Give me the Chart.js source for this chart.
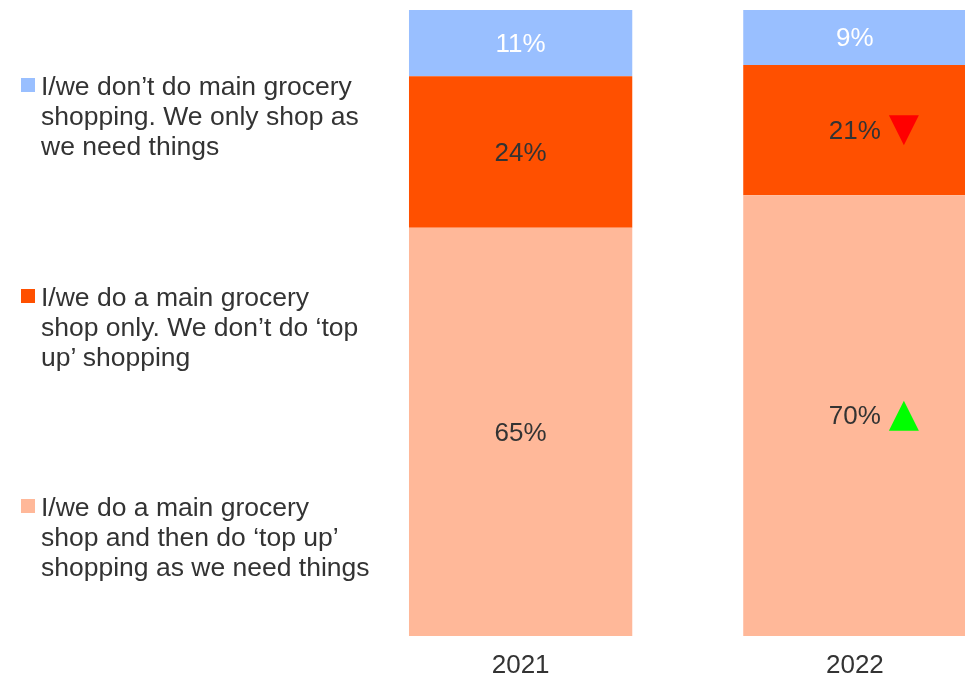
<!DOCTYPE html>
<html>
<head>
<meta charset="utf-8">
<script src="https://cdn.jsdelivr.net/npm/chart.js@4"></script>
<style>
  html, body { margin:0; padding:0; background:#fff; overflow:hidden; width:965px; height:680px; }
  #wrap { position:absolute; left:0; top:0; width:1022px; height:680px; }
  .leg { position:absolute; left:41px; font-family:"Liberation Sans", Arial, sans-serif; font-size:26.5px; line-height:30px; color:#333; white-space:nowrap; }
  .sq { position:absolute; left:21px; width:14px; height:14px; }
</style>
</head>
<body>
<div id="wrap"><canvas id="c" width="1022" height="680"></canvas></div>
<div id="legend"></div>
<script>
const categories = ['2021', '2022'];
const seriesNames = [
  'I/we do a main grocery shop and then do \u2018top up\u2019 shopping as we need things',
  'I/we do a main grocery shop only. We don\u2019t do \u2018top up\u2019 shopping',
  'I/we don\u2019t do main grocery shopping. We only shop as we need things'
];
const topUpValues = [65.2, 70.4];
const mainOnlyValues = [24.2, 20.8];
const noMainValues = [10.6, 8.8];
const topUpMarks = [null, 'up'];
const mainOnlyMarks = [null, 'down'];
const noMainMarks = [null, null];
const legendLines = [
  ['I/we don\u2019t do main grocery', 'shopping. We only shop as', 'we need things'],
  ['I/we do a main grocery', 'shop only. We don\u2019t do \u2018top', 'up\u2019 shopping'],
  ['I/we do a main grocery', 'shop and then do \u2018top up\u2019', 'shopping as we need things']
];

const colors = ['#FFB899', '#FF5000', '#99BFFF'];
const labelColors = ['#333333', '#333333', '#FFFFFF'];
const marks = [topUpMarks, mainOnlyMarks, noMainMarks];

// HTML legend (top to bottom: noMain, mainOnly, topUp)
const legendColors = [colors[2], colors[1], colors[0]];
const legendTops = [71, 282, 492];
const legendEl = document.getElementById('legend');
legendLines.forEach((lines, i) => {
  const sq = document.createElement('div');
  sq.className = 'sq';
  sq.style.top = (legendTops[i] + 7) + 'px';
  sq.style.background = legendColors[i];
  legendEl.appendChild(sq);
  const t = document.createElement('div');
  t.className = 'leg';
  t.style.top = legendTops[i] + 'px';
  t.innerHTML = lines.join('<br>');
  legendEl.appendChild(t);
});

const labelPlugin = {
  id: 'segLabels',
  afterDatasetsDraw(chart) {
    const ctx = chart.ctx;
    ctx.save();
    ctx.font = '26px "Liberation Sans", Arial, sans-serif';
    ctx.textAlign = 'center';
    ctx.textBaseline = 'middle';
    chart.data.datasets.forEach((ds, di) => {
      const meta = chart.getDatasetMeta(di);
      meta.data.forEach((el, i) => {
        const cy = (el.y + el.base) / 2;
        ctx.fillStyle = labelColors[di];
        ctx.fillText(Math.round(ds.data[i]) + '%', el.x, cy + 1.5);
        const m = marks[di][i];
        if (m) {
          const x0 = el.x + 34, x1 = el.x + 64, xm = el.x + 49;
          ctx.beginPath();
          if (m === 'up') {
            ctx.fillStyle = '#00FF00';
            ctx.moveTo(xm, cy - 15); ctx.lineTo(x1, cy + 15); ctx.lineTo(x0, cy + 15);
          } else {
            ctx.fillStyle = '#FF0000';
            ctx.moveTo(x0, cy - 15); ctx.lineTo(x1, cy - 15); ctx.lineTo(xm, cy + 15);
          }
          ctx.closePath();
          ctx.fill();
        }
      });
    });
    ctx.restore();
  }
};

new Chart(document.getElementById('c'), {
  type: 'bar',
  data: {
    labels: categories,
    datasets: [
      { label: seriesNames[0], data: topUpValues, backgroundColor: colors[0] },
      { label: seriesNames[1], data: mainOnlyValues, backgroundColor: colors[1] },
      { label: seriesNames[2], data: noMainValues, backgroundColor: colors[2] }
    ]
  },
  options: {
    responsive: false,
    animation: false,
    layout: { padding: { left: 353.5, right: 0, top: 10, bottom: 0 } },
    datasets: { bar: { categoryPercentage: 1, barPercentage: 0.668, borderWidth: 0 } },
    plugins: { legend: { display: false }, tooltip: { enabled: false } },
    scales: {
      x: {
        stacked: true,
        grid: { display: false, drawTicks: false },
        border: { display: false },
        ticks: { color: '#333', padding: 14, font: { size: 26, family: '"Liberation Sans", Arial, sans-serif' } },
        afterFit(scale) { scale.height = 44; }
      },
      y: {
        stacked: true,
        display: false,
        min: 0,
        max: 100
      }
    }
  },
  plugins: [labelPlugin]
});
</script>
</body>
</html>
